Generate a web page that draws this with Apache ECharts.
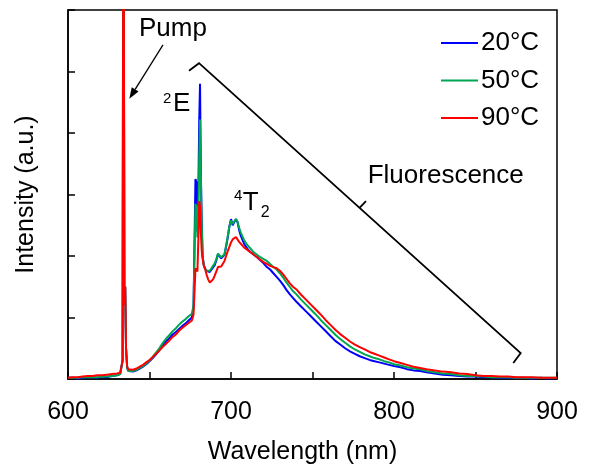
<!DOCTYPE html>
<html><head><meta charset="utf-8">
<script src="https://cdn.jsdelivr.net/npm/echarts@6/dist/echarts.min.js"></script>
<style>html,body{margin:0;padding:0;background:#fff}#c{width:590px;height:470px}</style>
</head><body><div id="c"></div>
<script>
const wavelength = [
600,603,606,609,612,615,618,621,624,627,
630,632,633,633.5,634,634.6,635.1,635.6,636.3,637,
638,640,642,644,646,648,650,652,654,656,
658,660,662,664,666,668,670,672,674,676,
677,677.6,678.2,678.8,679.4,680,680.5,681,681.5,682,
682.6,683.3,684,685,686,687,688,689,690,691,
692,693,694,695,696,697,698,699,700,701,
702,703,704,705,706,708,710,712,714,716,
718,720,722,724,726,728,730,732,734,736,
738,740,743,746,749,752,755,758,761,764,
767,770,773,776,779,782,785,788,791,794,
797,800,804,808,812,816,820,825,830,835,
840,845,850,855,860,865,870,875,880,885,
890,895,900];
const temp20 = [
0.02,0.02,0.01,0.02,0.03,0.03,0.02,0.04,0.03,0.05,
0.06,0.08,0.1,0.3,10,1.2,1.5,0.5,0.18,0.13,
0.12,0.12,0.14,0.17,0.2,0.24,0.29,0.34,0.4,0.47,
0.55,0.61,0.66,0.72,0.76,0.81,0.86,0.9,0.95,1.0,
1.15,2.2,3.25,3.2,2.4,3.1,4.2,4.8,3.35,2.6,
2.0,1.85,1.8,1.76,1.74,1.74,1.78,1.8,1.85,1.93,
2.03,2.0,1.96,1.95,2.02,2.15,2.3,2.48,2.6,2.5,
2.52,2.6,2.55,2.42,2.33,2.2,2.12,2.06,2.02,1.98,
1.93,1.88,1.82,1.78,1.72,1.66,1.6,1.53,1.45,1.38,
1.32,1.26,1.18,1.1,1.02,0.94,0.86,0.78,0.7,0.62,
0.56,0.5,0.45,0.41,0.37,0.34,0.31,0.29,0.27,0.25,
0.23,0.21,0.19,0.16,0.14,0.13,0.11,0.09,0.07,0.06,
0.05,0.04,0.04,0.03,0.03,0.02,0.02,0.02,0.02,0.01,
0.02,0.01,0.02];
const temp50 = [
0.02,0.02,0.02,0.03,0.03,0.03,0.03,0.04,0.04,0.05,
0.06,0.08,0.1,0.3,10,1.2,1.5,0.5,0.18,0.13,
0.13,0.13,0.15,0.18,0.21,0.25,0.3,0.36,0.43,0.5,
0.58,0.65,0.71,0.77,0.82,0.88,0.93,0.97,1.02,1.06,
1.2,2.0,2.85,2.8,2.3,2.75,3.6,4.22,3.3,2.55,
2.0,1.85,1.8,1.76,1.75,1.76,1.8,1.83,1.88,1.95,
2.04,2.02,1.98,1.96,2.03,2.17,2.32,2.48,2.58,2.52,
2.55,2.6,2.56,2.46,2.38,2.26,2.18,2.12,2.06,2.02,
1.98,1.95,1.92,1.87,1.82,1.78,1.72,1.65,1.57,1.5,
1.43,1.38,1.29,1.21,1.13,1.05,0.96,0.88,0.8,0.72,
0.65,0.59,0.53,0.48,0.44,0.4,0.37,0.34,0.32,0.29,
0.27,0.24,0.22,0.19,0.17,0.16,0.13,0.11,0.09,0.08,
0.06,0.05,0.05,0.04,0.03,0.03,0.03,0.02,0.02,0.02,
0.02,0.02,0.02];
const temp90 = [
0.02,0.03,0.03,0.04,0.05,0.05,0.06,0.06,0.07,0.08,
0.09,0.1,0.12,0.3,10,1.2,1.5,0.5,0.2,0.16,
0.15,0.15,0.17,0.2,0.23,0.27,0.31,0.36,0.41,0.46,
0.52,0.57,0.62,0.68,0.72,0.78,0.83,0.87,0.91,0.95,
1.05,1.4,1.8,1.82,1.75,2.3,2.89,2.8,2.4,2.1,
1.95,1.85,1.8,1.7,1.62,1.57,1.58,1.62,1.68,1.75,
1.82,1.84,1.83,1.84,1.92,2.0,2.08,2.15,2.22,2.27,
2.29,2.31,2.28,2.23,2.2,2.14,2.1,2.06,2.02,1.98,
1.94,1.9,1.87,1.84,1.82,1.8,1.76,1.7,1.63,1.56,
1.5,1.46,1.37,1.29,1.21,1.13,1.05,0.96,0.88,0.8,
0.73,0.67,0.61,0.56,0.52,0.48,0.44,0.41,0.38,0.35,
0.32,0.29,0.26,0.23,0.2,0.18,0.16,0.14,0.12,0.11,
0.09,0.08,0.06,0.05,0.05,0.04,0.04,0.03,0.03,0.03,
0.02,0.02,0.02];
const seriesNames = ['20°C', '50°C', '90°C'];
const seriesColors = ['#0000ff', '#00a651', '#ff0000'];
const xLabelTicks = [600, 700, 800, 900];

const FONT = 'Liberation Sans, Arial, sans-serif';
const chart = echarts.init(document.getElementById('c'), null, {renderer: 'canvas'});
const allValues = [temp20, temp50, temp90];

chart.setOption({
  animation: false,
  backgroundColor: '#fff',
  grid: {left: 68, right: 33, top: 10, bottom: 90, show: true, borderColor: '#000', borderWidth: 1.5},
  legend: {
    orient: 'vertical', left: 441, top: 30, padding: 0,
    icon: 'rect', itemWidth: 37, itemHeight: 2, itemGap: 11.5,
    textStyle: {fontFamily: FONT, fontSize: 26, color: '#000', lineHeight: 26, padding: [0, 0, 0, -2]},
    data: seriesNames
  },
  xAxis: {
    type: 'value', min: 600, max: 900, interval: 50,
    name: 'Wavelength (nm)', nameLocation: 'middle', nameGap: 61,
    nameTextStyle: {fontFamily: FONT, fontSize: 25, color: '#000', padding: [0, 20, 0, 0]},
    axisLine: {lineStyle: {color: '#000', width: 1.5}},
    axisTick: {inside: true, length: 7, lineStyle: {color: '#000', width: 1.5}},
    axisLabel: {margin: 21, fontFamily: FONT, fontSize: 25, color: '#000',
      formatter: v => xLabelTicks.includes(v) ? String(v) : ''},
    splitLine: {show: false}
  },
  yAxis: {
    type: 'value', min: 0, max: 6, interval: 1,
    name: 'Intensity (a.u.)', nameLocation: 'middle', nameGap: 29,
    nameTextStyle: {fontFamily: FONT, fontSize: 25, color: '#000'},
    axisLine: {show: true, lineStyle: {color: '#000', width: 1.5}},
    axisTick: {show: true, inside: true, length: 7, lineStyle: {color: '#000', width: 1.5}},
    axisLabel: {show: false},
    splitLine: {show: false}
  },
  series: seriesNames.map((n, k) => ({
    name: n, type: 'line', showSymbol: false, symbol: 'none', clip: true,
    color: seriesColors[k],
    lineStyle: {color: seriesColors[k], width: 2},
    data: wavelength.map((w, i) => [w, allValues[k][i]])
  }))
});

// annotations defined in data coordinates
const P = (x, y) => chart.convertToPixel({gridIndex: 0}, [x, y]);
const txt = (x, y, s, size) => {
  const p = P(x, y);
  return {type: 'text', x: p[0], y: p[1] + 1, z: 10,
    style: {text: s, font: size + 'px ' + FONT, fill: '#000', align: 'left', verticalAlign: 'middle'}};
};
const arrowStart = P(658.28, 5.432), arrowTip = P(637.61, 4.557);
const dx = arrowTip[0] - arrowStart[0], dy = arrowTip[1] - arrowStart[1];
const L = Math.hypot(dx, dy), ux = dx / L, uy = dy / L;
const bx = arrowTip[0] - 11 * ux, by = arrowTip[1] - 11 * uy;
const nx = -uy, ny = ux;
const bracket = [[674.23, 5.011], [680.37, 5.135], [877.73, 0.4216], [873.19, 0.2595]].map(a => P(a[0], a[1]));
const midTick = [[778.83, 2.781], [782.82, 2.891]].map(a => P(a[0], a[1]));

chart.setOption({
  graphic: [
    txt(643.56, 5.716, 'Pump', 26),
    {type: 'line', z: 10, shape: {x1: arrowStart[0], y1: arrowStart[1], x2: bx, y2: by},
      style: {stroke: '#000', lineWidth: 1.3}},
    {type: 'polygon', z: 10, shape: {points: [arrowTip, [bx + 4 * nx, by + 4 * ny], [bx - 4 * nx, by - 4 * ny]]},
      style: {fill: '#000'}},
    txt(658.28, 4.573, '2', 15),
    txt(664.42, 4.486, 'E', 26),
    txt(701.84, 2.989, '4', 15),
    txt(707.18, 2.886, 'T', 26),
    txt(718.22, 2.724, '2', 16),
    txt(783.87, 3.316, 'Fluorescence', 26),
    {type: 'polyline', z: 10, shape: {points: bracket}, style: {stroke: '#000', lineWidth: 1.8, fill: null}},
    {type: 'polyline', z: 10, shape: {points: midTick}, style: {stroke: '#000', lineWidth: 1.8, fill: null}}
  ]
});
</script>
</body></html>
